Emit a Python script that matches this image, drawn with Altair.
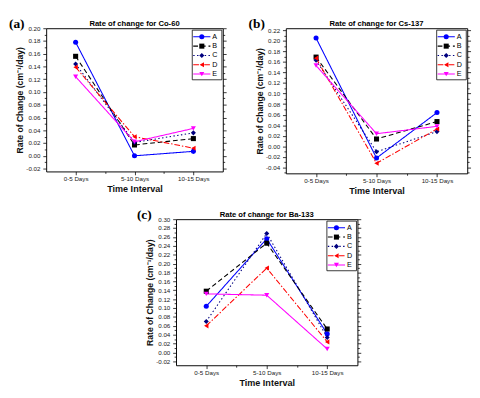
import json
import math
import altair as alt
import pandas as pd

# ---------------- data ----------------
intervals = ["0-5 Days", "5-10 Days", "10-15 Days"]
series = ["A", "B", "C", "D", "E"]

co60 = {
    "A": [0.178, 0.000, 0.007],
    "B": [0.156, 0.017, 0.027],
    "C": [0.144, 0.021, 0.036],
    "D": [0.139, 0.030, 0.012],
    "E": [0.124, 0.022, 0.043],
}
cs137 = {
    "A": [0.205, -0.022, 0.064],
    "B": [0.169, 0.014, 0.047],
    "C": [0.163, -0.010, 0.028],
    "D": [0.167, -0.032, 0.033],
    "E": [0.153, 0.024, 0.038],
}
ba133 = {
    "A": [0.104, 0.256, 0.042],
    "B": [0.138, 0.246, 0.053],
    "C": [0.070, 0.268, 0.034],
    "D": [0.060, 0.190, 0.024],
    "E": [0.132, 0.129, 0.008],
}

# ---------------- styles ----------------
colors = ["#0000ff", "#000000", "#00007f", "#ff0000", "#ff00ff"]
shapes = ["circle", "square", "diamond", "triangle-left", "triangle-down"]
dashes = [[1, 0], [5, 3], [1.5, 2.5], [6, 2, 1.5, 2], [1, 0]]

FONT = "Liberation Sans"
color_sc = alt.Scale(domain=series, range=colors)
shape_sc = alt.Scale(domain=series, range=shapes)
dash_sc = alt.Scale(domain=series, range=dashes)


def panel(values, title, tag, ydom, w, h):
    rows = []
    for s in series:
        for i, (iv, v) in enumerate(zip(intervals, values[s])):
            rows.append({"series": s, "interval": iv, "pos": i + 1, "value": v})
    df = pd.DataFrame(rows)

    yvals = [round(k / 100, 2) for k in range(math.ceil(ydom[0] * 100), math.floor(ydom[1] * 100) + 1)]
    ytick = {"condition": {"test": "abs(round(datum.value*100)) % 2 == 0", "value": 3.5}, "value": 2}
    xtick = {"condition": {"test": "datum.value % 1 == 0", "value": 3.5}, "value": 2}

    xenc = alt.X(
        "pos:Q",
        scale=alt.Scale(domain=[0.5, 3.5], nice=False, zero=False),
        axis=alt.Axis(
            values=[1, 1.5, 2, 2.5, 3],
            labelExpr=f"datum.value % 1 == 0 ? {json.dumps(intervals)}[datum.value - 1] : ''",
            tickSize=xtick,
            labelPadding=1,
            titlePadding=2,
            titleFontSize=9.5,
            grid=False,
        ),
        title="Time Interval",
    )
    yscale = alt.Scale(domain=ydom, nice=False, zero=False)

    lines = alt.Chart(df).mark_line(strokeWidth=1.1).encode(
        x=xenc,
        y=alt.Y(
            "value:Q",
            scale=yscale,
            axis=alt.Axis(
                orient="left",
                values=yvals,
                labelExpr="abs(round(datum.value*100)) % 2 == 0 ? replace(format(datum.value, '.2f'), '\u2212', '-') : ''",
                tickSize=ytick,
                labelPadding=3,
                titlePadding=1,
                grid=False,
            ),
            title="Rate of Change (cm\u207b\u00b9/day)",
        ),
        color=alt.Color("series:N", scale=color_sc, legend=None),
        strokeDash=alt.StrokeDash("series:N", scale=dash_sc, legend=None),
    )
    pts = alt.Chart(df).mark_point(filled=True, size=28, opacity=1).encode(
        x=xenc,
        y=alt.Y(
            "value:Q",
            scale=yscale,
            axis=alt.Axis(orient="right", values=yvals, labels=False, tickSize=ytick, grid=False, title=None),
        ),
        color=alt.Color("series:N", scale=color_sc, legend=None),
        shape=alt.Shape("series:N", scale=shape_sc, legend=None),
    )

    # legend drawn inside the plot, top-right
    leg_df = pd.DataFrame({"series": series})
    ly = alt.Y("series:N", scale=alt.Scale(type="point", domain=series, range=[9, 48], padding=0), axis=None)
    box = alt.Chart(pd.DataFrame({"k": [0]})).mark_rect(fill="white", stroke="black", strokeWidth=0.8).encode(
        x=alt.value(w - 32), x2=alt.value(w - 1), y=alt.value(2), y2=alt.value(54)
    )
    leg_lines = alt.Chart(leg_df).mark_rule(strokeWidth=1.1).encode(
        x=alt.value(w - 31), x2=alt.value(w - 13), y=ly,
        color=alt.Color("series:N", scale=color_sc, legend=None),
        strokeDash=alt.StrokeDash("series:N", scale=dash_sc, legend=None),
    )
    leg_pts = alt.Chart(leg_df).mark_point(filled=True, size=28, opacity=1).encode(
        x=alt.value(w - 22), y=ly,
        color=alt.Color("series:N", scale=color_sc, legend=None),
        shape=alt.Shape("series:N", scale=shape_sc, legend=None),
    )
    leg_txt = alt.Chart(leg_df).mark_text(align="left", baseline="middle", fontSize=7.5, font=FONT).encode(
        x=alt.value(w - 11), y=ly, text="series:N"
    )
    one = pd.DataFrame({"k": [0]})
    tag_txt = alt.Chart(one).mark_text(
        align="left", baseline="top", fontSize=14, font="Liberation Serif", fontWeight="bold"
    ).encode(x=alt.value(tag[1]), y=alt.value(-11), text=alt.value(tag[0]))
    title_txt = alt.Chart(one).mark_text(
        align="center", baseline="middle", fontSize=8, font=FONT, fontWeight="bold"
    ).encode(x=alt.value(w / 2), y=alt.value(-4.5), text=alt.value(title))

    return alt.layer(
        lines, pts, box, leg_lines, leg_pts, leg_txt, tag_txt, title_txt
    ).resolve_scale(y="independent").properties(width=w, height=h)


pa = panel(co60, "Rate of change for Co-60", ("(a)", -39), [-0.0245, 0.20], 185, 150)
pb = panel(cs137, "Rate of change for Cs-137", ("(b)", -39), [-0.051, 0.2236], 190, 152)
pc = panel(ba133, "Rate of change for Ba-133", ("(c)", -41), [-0.0286, 0.30], 190, 153)

# empty cell that pushes panel (c) towards the middle
spacer = alt.Chart(pd.DataFrame({"k": [0]})).mark_point(opacity=0, size=1).encode(
    x=alt.value(0), y=alt.value(0)
).properties(width=94, height=10, view=alt.ViewBackground(strokeOpacity=0))

row1 = alt.hconcat(pa, pb, spacing=21)
row2 = alt.hconcat(spacer, pc, spacing=0)

chart = alt.vconcat(row1, row2, spacing=13).configure_view(
    stroke="black", strokeWidth=1
).configure_axis(
    domain=False,
    labelFont=FONT,
    labelFontSize=6.5,
    labelColor="#222222",
    titleFont=FONT,
    titleFontSize=9,
    titleFontWeight="bold",
    titleColor="#111111",
    tickColor="black",
    tickWidth=0.8,
).properties(background="white", padding=0)

chart.save("out.html", embed_options={"renderer": "svg", "actions": False})
